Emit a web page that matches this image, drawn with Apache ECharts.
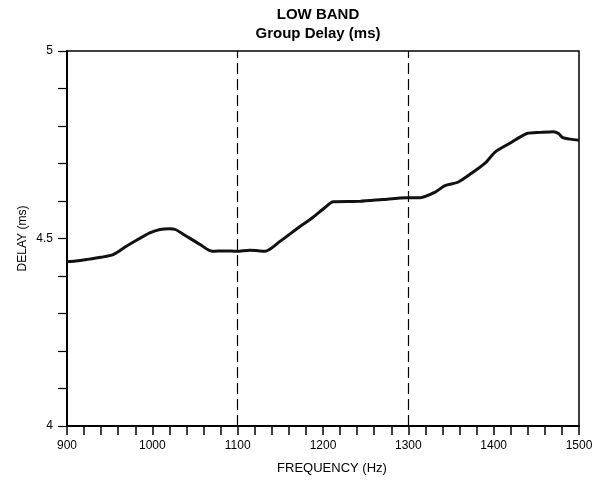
<!DOCTYPE html>
<html>
<head>
<meta charset="utf-8">
<title>LOW BAND Group Delay</title>
<script src="https://cdn.jsdelivr.net/npm/echarts@6/dist/echarts.min.js"></script>
<style>
  html, body { margin: 0; padding: 0; background: #fff; }
  #chart { width: 605px; height: 480px; }
</style>
</head>
<body>
<div id="chart"></div>
<script>
// Measured group delay across the low band
const frequencyHz = [900, 910, 923, 940, 954, 970, 985, 997, 1009, 1020, 1027, 1040, 1056, 1070, 1085, 1099, 1114, 1125, 1132, 1150, 1173, 1188, 1202, 1212, 1243, 1270, 1298, 1314, 1331, 1343, 1358, 1374, 1390, 1402, 1419, 1439, 1455, 1470, 1476, 1481, 1490, 1500];
const delayMs = [4.438, 4.440, 4.444, 4.450, 4.457, 4.480, 4.500, 4.515, 4.524, 4.526, 4.524, 4.506, 4.484, 4.466, 4.467, 4.466, 4.469, 4.467, 4.466, 4.493, 4.532, 4.556, 4.582, 4.598, 4.599, 4.604, 4.609, 4.609, 4.623, 4.641, 4.650, 4.674, 4.701, 4.731, 4.754, 4.780, 4.783, 4.785, 4.780, 4.769, 4.765, 4.762];

// Band edge markers
const bandEdges = [1100, 1300];

// Labelled ticks
const xTickLabels = [900, 1000, 1100, 1200, 1300, 1400, 1500];
const yTickLabels = ['4', '4.5', '5'];

const FONT = '"Liberation Sans", Arial, Helvetica, sans-serif';

const points = frequencyHz.map((f, i) => [f, delayMs[i]]);

const chart = echarts.init(document.getElementById('chart'), null, { renderer: 'canvas' });

chart.setOption({
  animation: false,
  backgroundColor: '#fff',
  textStyle: { fontFamily: FONT, color: '#000' },
  graphic: [
    {
      type: 'text',
      position: [318, 7],
      style: { text: 'LOW BAND', font: 'bold 15px ' + FONT, fill: '#000', align: 'center' },
      z: 10
    },
    {
      type: 'text',
      position: [318, 26],
      style: { text: 'Group Delay (ms)', font: 'bold 15px ' + FONT, fill: '#000', align: 'center' },
      z: 10
    }
  ],
  grid: {
    left: 67, right: 26, top: 51, bottom: 53,
    show: true, borderColor: '#000', borderWidth: 1.5,
    containLabel: false
  },
  xAxis: {
    type: 'value',
    min: 900, max: 1500, interval: 20,
    name: 'FREQUENCY (Hz)',
    nameLocation: 'middle',
    nameGap: 36,
    nameMoveOverlap: false,
    nameTextStyle: { fontSize: 13, fontFamily: FONT, color: '#000', padding: [0, 0, 0, 18] },
    axisLine: { show: true, lineStyle: { color: '#000', width: 2 } },
    axisTick: { show: true, length: 9, lineStyle: { color: '#000', width: 1.5 } },
    axisLabel: {
      fontSize: 12, fontFamily: FONT, color: '#000', margin: 14,
      showMinLabel: true, showMaxLabel: true,
      formatter: v => (xTickLabels.indexOf(Math.round(v)) >= 0 ? String(Math.round(v)) : '')
    },
    splitLine: { show: false }
  },
  yAxis: {
    type: 'value',
    min: 4, max: 5, interval: 0.1,
    name: 'DELAY (ms)',
    nameLocation: 'middle',
    nameGap: 38,
    nameMoveOverlap: false,
    nameTextStyle: { fontSize: 12, fontFamily: FONT, color: '#000' },
    axisLine: { show: true, lineStyle: { color: '#000', width: 2 } },
    axisTick: { show: true, length: 9, lineStyle: { color: '#000', width: 1.2 } },
    axisLabel: {
      fontSize: 12, fontFamily: FONT, color: '#000', margin: 14,
      showMinLabel: true, showMaxLabel: true,
      formatter: v => {
        const s = (Math.round(v * 10) / 10).toString();
        return yTickLabels.indexOf(s) >= 0 ? s : '';
      }
    },
    splitLine: { show: false }
  },
  series: [
    {
      type: 'line',
      data: points,
      showSymbol: false,
      smooth: 0.25,
      lineStyle: { color: '#111', width: 3 },
      z: 5,
      markLine: {
        silent: true,
        symbol: 'none',
        label: { show: false },
        lineStyle: { color: '#000', width: 1.2, type: [11, 5] },
        data: bandEdges.map(x => ({ xAxis: x }))
      }
    }
  ]
});
</script>
</body>
</html>
